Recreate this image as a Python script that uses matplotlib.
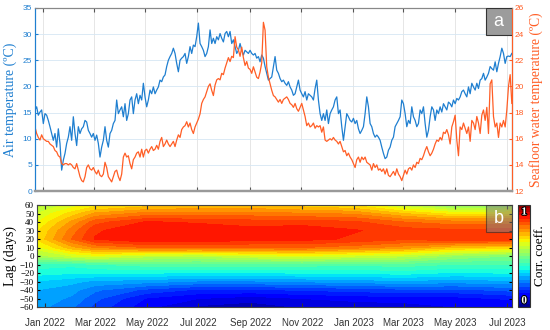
import numpy as np
import pandas as pd
import matplotlib
matplotlib.use("Agg")
import matplotlib.pyplot as plt
import matplotlib.dates as mdates
import matplotlib.patheffects as pe
from matplotlib.patches import Rectangle

# ---------------- data ----------------
start_date = "2021-12-22"
end_date = "2023-07-07"

air_temp = [
    15.5, 16.1, 14.5, 15.1, 15.5, 12.9, 14.8, 14.5, 13.5, 12.3, 11.0, 9.7, 11.0, 8.4, 11.9, 9.1,
    4.0, 5.9, 7.2, 9.1, 10.3, 12.3, 9.7, 14.2, 11.0, 8.7, 12.3, 11.0, 11.9, 12.3, 13.5, 13.2,
    11.6, 11.0, 10.3, 11.0, 9.7, 10.7, 9.1, 6.5, 8.4, 9.7, 12.3, 9.7, 8.4, 11.0, 11.6, 12.9,
    13.5, 17.4, 14.8, 15.5, 16.1, 14.2, 16.7, 13.5, 14.8, 17.4, 18.0, 14.8, 17.4, 18.6, 16.7, 18.3,
    17.4, 20.6, 18.0, 16.1, 17.4, 19.3, 18.6, 19.9, 18.6, 19.3, 19.9, 21.2, 20.9, 21.8, 22.2, 23.8,
    25.0, 25.7, 26.3, 27.3, 26.3, 24.4, 22.8, 25.0, 25.4, 25.7, 26.3, 24.4, 25.7, 27.6, 26.3, 27.9,
    27.6, 29.5, 32.1, 28.2, 27.6, 26.9, 25.7, 26.3, 27.6, 30.8, 28.2, 29.2, 28.2, 29.5, 28.9, 30.1,
    29.2, 28.5, 30.1, 30.5, 29.5, 30.5, 28.2, 28.9, 27.6, 26.3, 26.9, 28.2, 26.9, 26.0, 26.9, 26.6,
    26.3, 26.9, 26.3, 26.0, 26.3, 25.4, 25.7, 24.7, 26.0, 25.4, 23.8, 22.5, 21.2, 21.5, 21.8, 23.8,
    25.7, 23.1, 22.5, 21.5, 20.9, 21.2, 20.6, 20.2, 20.9, 19.9, 19.3, 18.3, 18.6, 19.9, 21.2, 19.3,
    18.6, 18.0, 19.0, 17.4, 18.6, 18.3, 18.0, 17.4, 19.6, 21.2, 17.4, 14.8, 13.5, 14.8, 13.5, 15.5,
    12.9, 14.8, 15.5, 16.1, 17.4, 18.0, 14.8, 15.5, 12.3, 9.7, 12.3, 14.8, 14.2, 13.5, 13.2, 13.9,
    12.9, 13.5, 11.9, 11.0, 11.6, 12.3, 14.8, 18.0, 16.1, 12.9, 12.3, 11.0, 10.3, 10.7, 10.3, 9.7,
    8.4, 7.2, 6.2, 6.5, 7.8, 8.4, 9.7, 10.3, 12.3, 12.9, 13.5, 14.2, 17.4, 16.7, 14.8, 12.3,
    13.5, 12.9, 16.1, 14.2, 13.5, 12.3, 12.9, 15.5, 14.8, 16.1, 12.9, 10.3, 11.6, 14.2, 16.1, 15.5,
    13.5, 15.5, 14.8, 16.1, 15.1, 16.7, 16.1, 15.5, 17.0, 16.7, 16.1, 17.4, 16.7, 17.7, 17.4, 18.0,
    19.0, 19.3, 18.6, 18.0, 19.9, 18.6, 20.6, 19.9, 19.3, 20.6, 19.6, 21.2, 21.5, 22.5, 21.2, 21.8,
    22.5, 23.8, 23.4, 23.1, 24.7, 22.8, 24.4, 25.7, 27.3, 26.3, 24.4, 25.7, 25.8, 25.7, 26.3,
]

seafloor_temp = [
    16.9, 16.4, 16.1, 15.9, 16.3, 16.0, 15.9, 15.8, 15.8, 15.6, 15.5, 15.4, 15.1, 15.0, 14.7, 14.6,
    14.1, 14.0, 14.1, 14.1, 14.0, 14.1, 14.0, 13.8, 13.7, 14.1, 13.6, 13.1, 12.8, 12.7, 13.1, 13.8,
    14.0, 13.7, 13.6, 13.8, 13.5, 13.3, 13.6, 13.2, 13.1, 13.3, 14.2, 13.8, 13.1, 12.9, 12.7, 13.1,
    13.5, 13.6, 13.1, 12.8, 13.3, 14.6, 14.9, 14.6, 14.7, 14.1, 13.7, 14.4, 14.6, 14.9, 15.0, 14.6,
    15.2, 14.6, 15.1, 15.2, 14.9, 15.2, 15.4, 15.1, 15.2, 15.5, 15.2, 15.8, 16.1, 15.4, 15.6, 15.9,
    15.6, 15.4, 15.6, 15.8, 15.4, 15.9, 16.3, 16.1, 16.7, 16.9, 17.0, 17.3, 16.9, 17.2, 16.7, 16.4,
    16.9, 17.2, 17.5, 17.9, 18.7, 19.0, 19.2, 19.6, 20.0, 20.2, 19.7, 19.3, 20.1, 20.5, 20.6, 20.5,
    21.0, 20.9, 21.4, 21.8, 22.2, 21.9, 22.3, 22.2, 23.8, 23.0, 22.8, 22.3, 23.0, 22.2, 21.6, 21.9,
    21.4, 21.3, 21.0, 21.5, 21.1, 20.7, 20.6, 21.1, 21.8, 24.9, 24.3, 21.5, 20.7, 20.2, 19.7, 19.3,
    19.2, 19.0, 18.8, 19.0, 18.7, 19.0, 19.1, 19.2, 19.0, 18.7, 18.6, 18.4, 18.7, 18.3, 18.1, 18.4,
    18.7, 18.2, 17.7, 17.0, 17.2, 16.9, 17.0, 17.2, 16.8, 17.0, 16.9, 17.0, 16.5, 16.9, 15.9, 15.8,
    15.9, 16.0, 15.9, 16.1, 15.9, 15.8, 15.6, 15.8, 15.4, 15.0, 15.1, 14.7, 14.9, 14.6, 14.4, 14.1,
    13.8, 14.4, 14.6, 14.2, 14.6, 14.4, 14.6, 14.2, 14.1, 14.0, 13.6, 14.1, 13.8, 14.0, 13.6, 13.7,
    13.5, 13.7, 13.3, 13.7, 13.2, 13.1, 13.3, 13.5, 13.2, 13.7, 13.3, 13.1, 12.8, 13.2, 13.6, 13.3,
    13.7, 13.8, 13.6, 14.0, 13.8, 14.2, 14.1, 14.5, 14.4, 14.7, 15.1, 15.4, 15.0, 14.7, 14.9, 15.2,
    15.6, 15.9, 15.8, 16.1, 15.9, 16.5, 16.4, 16.7, 16.3, 15.6, 16.9, 17.3, 17.8, 15.9, 14.7, 16.9,
    16.7, 17.2, 16.8, 16.4, 16.9, 15.8, 17.4, 17.2, 16.7, 17.7, 17.2, 16.4, 17.8, 18.2, 17.4, 18.4,
    16.4, 20.2, 20.5, 17.7, 16.9, 17.2, 16.1, 17.2, 16.9, 17.4, 16.9, 18.2, 20.0, 20.9, 18.7,
]

corr_dates = ["2021-12-22", "2022-02-01", "2022-03-01", "2022-05-01", "2022-07-01", "2022-09-01",
              "2022-11-01", "2023-01-01", "2023-03-01", "2023-05-01", "2023-07-07"]
lags = [-60, -50, -40, -30, -20, -10, 0, 10, 20, 30, 40, 50, 60]
corr_coeff = [
    [0.28, 0.24, 0.19, 0.11, 0.06, 0.05, 0.07, 0.08, 0.08, 0.10, 0.10],
    [0.29, 0.26, 0.21, 0.13, 0.10, 0.08, 0.10, 0.11, 0.12, 0.12, 0.14],
    [0.30, 0.28, 0.24, 0.19, 0.16, 0.16, 0.17, 0.18, 0.19, 0.19, 0.21],
    [0.33, 0.31, 0.29, 0.28, 0.26, 0.26, 0.27, 0.28, 0.29, 0.28, 0.29],
    [0.38, 0.37, 0.37, 0.37, 0.36, 0.36, 0.37, 0.37, 0.38, 0.36, 0.37],
    [0.42, 0.41, 0.43, 0.45, 0.45, 0.45, 0.45, 0.44, 0.45, 0.43, 0.43],
    [0.55, 0.60, 0.62, 0.58, 0.57, 0.60, 0.62, 0.60, 0.58, 0.53, 0.50],
    [0.62, 0.72, 0.77, 0.80, 0.80, 0.80, 0.80, 0.78, 0.75, 0.70, 0.68],
    [0.67, 0.80, 0.87, 0.90, 0.90, 0.88, 0.88, 0.86, 0.84, 0.86, 0.86],
    [0.66, 0.78, 0.86, 0.90, 0.90, 0.88, 0.89, 0.87, 0.85, 0.84, 0.85],
    [0.63, 0.74, 0.82, 0.87, 0.86, 0.85, 0.85, 0.84, 0.80, 0.78, 0.78],
    [0.60, 0.68, 0.74, 0.78, 0.78, 0.78, 0.77, 0.76, 0.70, 0.65, 0.66],
    [0.57, 0.61, 0.65, 0.68, 0.70, 0.70, 0.68, 0.66, 0.58, 0.50, 0.52],
]

# ---------------- style ----------------
BLUE = "#1f7fd0"
ORANGE = "#ff5e26"
SERIF = "Liberation Serif"
SANS = "Liberation Sans"

fig = plt.figure(figsize=(5.5, 3.3), dpi=100)

x0 = pd.Timestamp(start_date)
x1 = pd.Timestamp(end_date)
air_dates = pd.date_range(x0, x1, periods=len(air_temp))
sea_dates = pd.date_range(x0, x1, periods=len(seafloor_temp))
month_loc = mdates.MonthLocator(bymonth=[1, 3, 5, 7, 9, 11])

# ---------------- top panel ----------------
ax1 = fig.add_axes([0.0636, 0.421, 0.867, 0.555])
ax1.plot(air_dates, air_temp, color=BLUE, lw=0.9)
ax1.set_ylim(0, 35)
ax1.set_yticks(np.arange(0, 36, 5))
ax1.set_xlim(x0, x1)
ax1.xaxis.set_major_locator(month_loc)
ax1.tick_params(axis="x", direction="in", top=True, labelbottom=False, length=3, color="#555")
ax1.tick_params(axis="y", direction="in", colors=BLUE, labelsize=6, length=2, pad=2)
for lab in ax1.get_yticklabels():
    lab.set_family(SANS)
ax1.yaxis.grid(True, color="#d6e6f4", lw=0.6)
ax1.xaxis.grid(True, color="#e2e2e2", lw=0.6)
ax1.set_axisbelow(True)
ax1.set_ylabel("Air temperature (ºC)", color=BLUE, family=SERIF, fontsize=10, labelpad=4)
ax1.spines["top"].set_color("#888")
ax1.spines["bottom"].set_color("#999")
ax1.spines["bottom"].set_linewidth(1.6)
ax1.spines["left"].set_color(BLUE)

ax2 = ax1.twinx()
ax2.plot(sea_dates, seafloor_temp, color=ORANGE, lw=0.9)
ax2.set_ylim(12, 26)
ax2.set_yticks(np.arange(12, 27, 2))
ax2.tick_params(axis="y", direction="in", colors=ORANGE, labelsize=6, length=2, pad=2)
for lab in ax2.get_yticklabels():
    lab.set_family(SANS)
ax2.spines["right"].set_color(ORANGE)
ax2.spines["left"].set_color(BLUE)
ax2.spines["top"].set_color("#888")
ax2.spines["bottom"].set_color("#999")
ax2.spines["bottom"].set_linewidth(1.6)
ax2.set_ylabel("Seafloor water temperature (ºC)", color=ORANGE, family=SERIF, fontsize=9.8,
               labelpad=4)

ax2.add_patch(Rectangle((0.945, 0.852), 0.055, 0.148, transform=ax2.transAxes,
                        facecolor="#9c9c9c", edgecolor="#333", lw=0.8, zorder=5))
ax2.text(0.9725, 0.926, "a", transform=ax2.transAxes, ha="center", va="center",
         color="white", fontsize=13, family=SANS, zorder=6)

# ---------------- bottom panel ----------------
ax3 = fig.add_axes([0.067, 0.0697, 0.864, 0.309])
cx = mdates.date2num(pd.to_datetime(corr_dates))
X, Y = np.meshgrid(cx, np.array(lags))
levels = np.linspace(0, 1, 31)
cf = ax3.contourf(X, Y, np.array(corr_coeff), levels=levels, cmap="jet", vmin=0, vmax=1)
ax3.set_xlim(x0, x1)
ax3.set_ylim(-60, 60)
ax3.set_yticks(np.arange(-60, 61, 10))
ax3.xaxis.set_major_locator(month_loc)
ax3.xaxis.set_major_formatter(mdates.DateFormatter("%b %Y"))
ax3.tick_params(axis="x", direction="in", top=True, length=3, labelsize=7, colors="#333",
                pad=8)
ax3.tick_params(axis="y", direction="in", right=True, length=2, labelsize=6.5, pad=2)
for lab in ax3.get_xticklabels():
    lab.set_family(SANS)
for lab in ax3.get_yticklabels():
    lab.set_family(SERIF)
ax3.set_ylabel("Lag (days)", family=SERIF, fontsize=10, labelpad=2)
for s in ax3.spines.values():
    s.set_color("#444")

ax3.add_patch(Rectangle((0.945, 0.735), 0.055, 0.265, transform=ax3.transAxes,
                        facecolor="#808080", alpha=0.55, edgecolor="#222", lw=0.8, zorder=5))
ax3.text(0.9725, 0.868, "b", transform=ax3.transAxes, ha="center", va="center",
         color="white", fontsize=13, family=SANS, zorder=6)

cax = fig.add_axes([0.942, 0.0697, 0.022, 0.309])
cb = fig.colorbar(cf, cax=cax, ticks=[])
cb.outline.set_edgecolor("#333")
outline = [pe.withStroke(linewidth=1.5, foreground="black")]
cax.text(0.5, 0.93, "1", transform=cax.transAxes, ha="center", va="center", color="white",
         fontsize=8, family=SERIF, fontweight="bold", path_effects=outline)
cax.text(0.5, 0.06, "0", transform=cax.transAxes, ha="center", va="center", color="white",
         fontsize=8, family=SERIF, fontweight="bold", path_effects=outline)
cax.set_ylabel("Corr. coeff.", family=SERIF, fontsize=9.5, labelpad=3)
cax.yaxis.set_label_position("right")

fig.savefig("out.png", dpi=100)
